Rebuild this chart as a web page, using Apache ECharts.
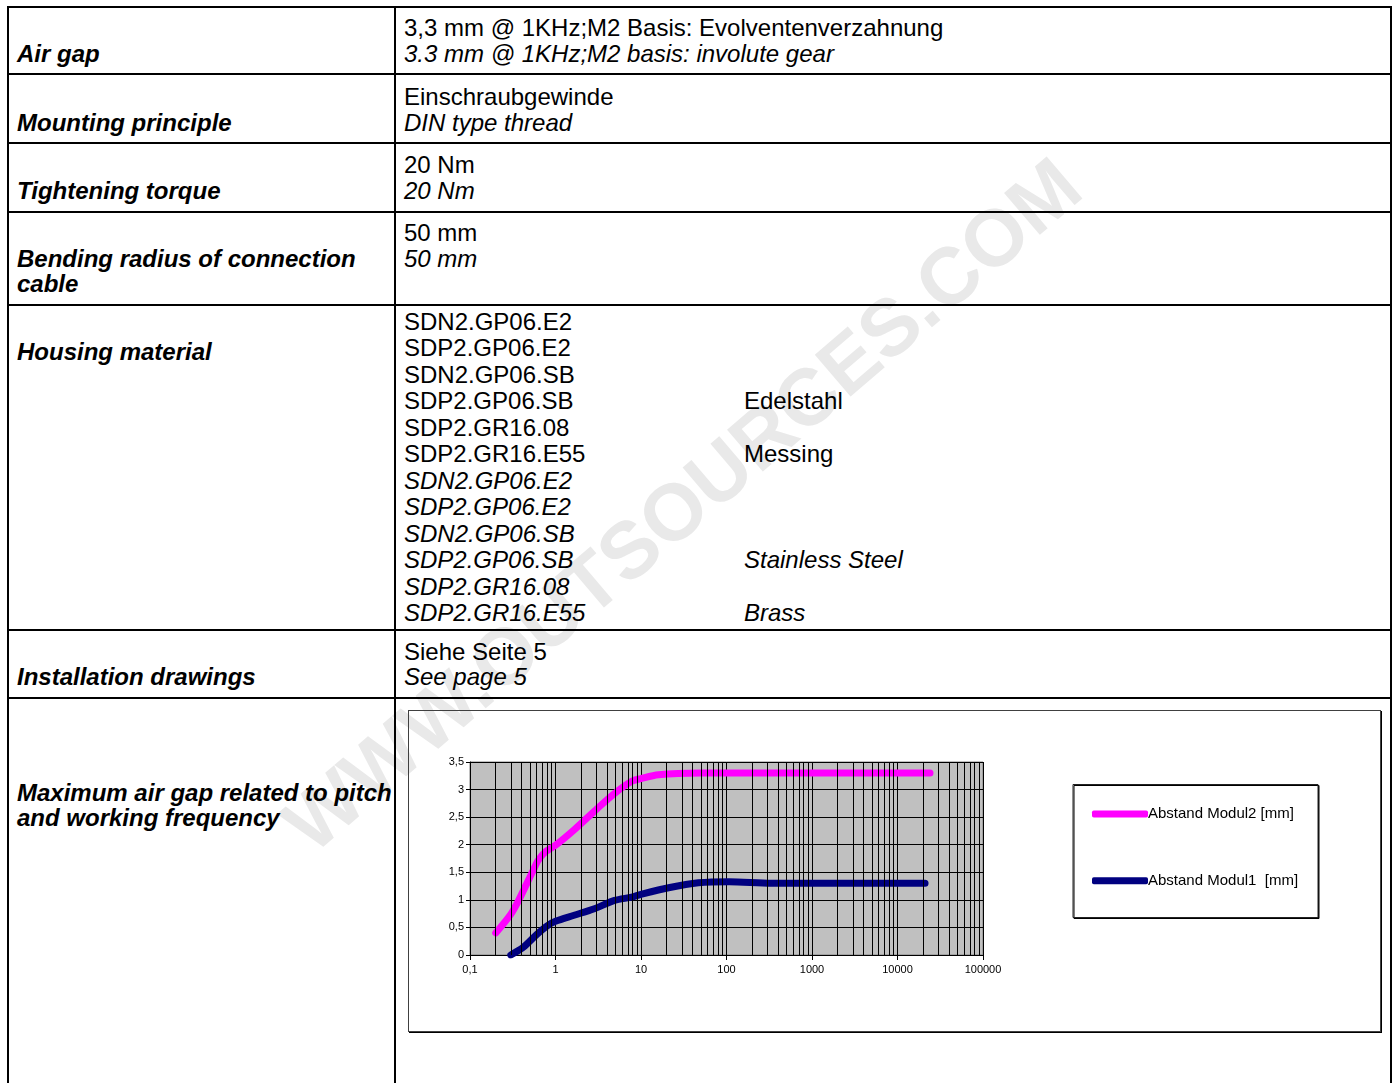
<!DOCTYPE html>
<html>
<head>
<meta charset="utf-8">
<script src="https://cdn.jsdelivr.net/npm/echarts@6/dist/echarts.min.js"></script>
<style>
html,body{margin:0;padding:0;background:#fff;}
body{width:1393px;height:1083px;position:relative;overflow:hidden;font-family:"Liberation Sans",Arial,sans-serif;}
.hl{position:absolute;height:2px;background:#000;left:7px;width:1385px;z-index:2;}
.vl{position:absolute;width:2px;background:#000;top:7px;height:1076px;z-index:2;}
.t{position:absolute;font-size:24px;line-height:26px;white-space:pre;color:#000;z-index:3;}
.i{font-style:italic;}
.b{font-weight:bold;font-style:italic;}
#wm{position:absolute;left:682px;top:505px;transform:translate(-50%,-50%) rotate(-40.5deg);font-weight:bold;font-size:80px;color:#e9e9e9;white-space:nowrap;z-index:0;line-height:1;}
#chart{position:absolute;left:408px;top:710px;width:971px;height:320px;border:1px solid #404040;box-shadow:1px 1px 0 #000;z-index:1;}
</style>
</head>
<body>
<div id="wm">WWW.OUTSOURCES.COM</div>

<div class="hl" style="top:6px"></div>
<div class="hl" style="top:73px"></div>
<div class="hl" style="top:142px"></div>
<div class="hl" style="top:211px"></div>
<div class="hl" style="top:304px"></div>
<div class="hl" style="top:629px"></div>
<div class="hl" style="top:697px"></div>
<div class="vl" style="left:7px"></div>
<div class="vl" style="left:394px"></div>
<div class="vl" style="left:1390px"></div>

<div id="texts"></div>
<div id="chart"></div>

<script>
// ---- table text ----
const leftLabels = [
  ['Air gap', 54],
  ['Mounting principle', 123],
  ['Tightening torque', 191],
  ['Bending radius of connection', 259],
  ['cable', 284],
  ['Housing material', 352],
  ['Installation drawings', 677],
  ['Maximum air gap related to pitch', 793],
  ['and working frequency', 818]
];
const rightLines = [
  ['3,3 mm @ 1KHz;M2 Basis: Evolventenverzahnung', 28, false],
  ['3.3 mm @ 1KHz;M2 basis: involute gear', 54, true],
  ['Einschraubgewinde', 97, false],
  ['DIN type thread', 123, true],
  ['20 Nm', 165, false],
  ['20 Nm', 191, true],
  ['50 mm', 233, false],
  ['50 mm', 259, true],
  ['Siehe Seite 5', 652, false],
  ['See page 5', 677, true]
];
const housingTypes = ['SDN2.GP06.E2','SDP2.GP06.E2','SDN2.GP06.SB','SDP2.GP06.SB','SDP2.GR16.08','SDP2.GR16.E55'];
const housingMaterialsDE = ['', '', '', 'Edelstahl', '', 'Messing'];
const housingMaterialsEN = ['', '', '', 'Stainless Steel', '', 'Brass'];

const texts = document.getElementById('texts');
function addText(str, x, cy, cls) {
  const d = document.createElement('div');
  d.className = 't ' + cls;
  d.style.left = x + 'px';
  d.style.top = (cy - 13) + 'px';
  d.textContent = str;
  texts.appendChild(d);
}
leftLabels.forEach(l => addText(l[0], 17, l[1], 'b'));
rightLines.forEach(l => addText(l[0], 404, l[1], l[2] ? 'i' : ''));
for (let k = 0; k < 12; k++) {
  const j = k % 6, it = k >= 6;
  const cy = 322 + 26.45 * k;
  addText(housingTypes[j], 404, cy, it ? 'i' : '');
  const m = it ? housingMaterialsEN[j] : housingMaterialsDE[j];
  if (m) addText(m, 744, cy, it ? 'i' : '');
}

// ---- chart data ----
const xTickValues = [0.1, 1, 10, 100, 1000, 10000, 100000];
const xTickLabels = ['0,1', '1', '10', '100', '1000', '10000', '100000'];
const yTickValues = [0, 0.5, 1, 1.5, 2, 2.5, 3, 3.5];
const yTickLabels = ['0', '0,5', '1', '1,5', '2', '2,5', '3', '3,5'];

const seriesNames = ['Abstand Modul2 [mm]', 'Abstand Modul1  [mm]'];
const modul2X = [0.2, 0.3, 0.37, 0.46, 0.55, 0.63, 0.76, 1, 1.65, 3.1, 4.9, 7.8, 10, 16, 50, 24000];
const modul2Y = [0.4, 0.74, 0.99, 1.29, 1.54, 1.72, 1.87, 1.99, 2.27, 2.66, 2.93, 3.15, 3.2, 3.27, 3.3, 3.3];
const modul1X = [0.3, 0.42, 0.61, 0.8, 1, 1.65, 2.85, 4.9, 7.8, 10, 21, 47, 107, 335, 21000];
const modul1Y = [0, 0.14, 0.38, 0.53, 0.61, 0.72, 0.84, 0.99, 1.05, 1.1, 1.22, 1.31, 1.33, 1.3, 1.3];

const minorMultipliers = [2, 3, 4, 5, 6, 7, 8, 9];
const minorDecades = [0.1, 1, 10, 100, 1000, 10000];

const pair = (xs, ys) => xs.map((x, i) => [x, ys[i]]);
const minorLines = [];
minorDecades.forEach(d => minorMultipliers.forEach(m => minorLines.push({ xAxis: +(d * m).toPrecision(6) })));

function lookup(vals, labels, v, log) {
  for (let i = 0; i < vals.length; i++) {
    const a = log ? Math.log10(vals[i]) : vals[i];
    const b = log ? Math.log10(v) : v;
    if (Math.abs(a - b) < 1e-6) return labels[i];
  }
  return '';
}

const FONT = '"Liberation Sans", Arial, sans-serif';
const chart = echarts.init(document.getElementById('chart'), null, { renderer: 'canvas' });
chart.setOption({
  animation: false,
  backgroundColor: 'transparent',
  textStyle: { fontFamily: FONT },
  grid: {
    left: 61, top: 51, width: 513, height: 193,
    show: true, backgroundColor: '#C0C0C0', borderColor: '#808080', borderWidth: 1,
    containLabel: false
  },
  xAxis: {
    type: 'log', logBase: 10, min: 0.1, max: 100000,
    axisLine: { show: true, lineStyle: { color: '#000', width: 1 } },
    axisTick: { show: true, length: 5, lineStyle: { color: '#000' } },
    splitLine: { show: true, lineStyle: { color: '#000', width: 1 } },
    axisLabel: {
      fontSize: 11, color: '#000', margin: 9, fontFamily: FONT,
      formatter: v => lookup(xTickValues, xTickLabels, v, true)
    }
  },
  yAxis: {
    type: 'value', min: 0, max: 3.5, interval: 0.5,
    axisLine: { show: true, lineStyle: { color: '#000', width: 1 } },
    axisTick: { show: true, length: 4, lineStyle: { color: '#000' } },
    splitLine: { show: true, lineStyle: { color: '#000', width: 1 } },
    axisLabel: {
      fontSize: 11, color: '#000', margin: 6, fontFamily: FONT,
      formatter: v => lookup(yTickValues, yTickLabels, v, false)
    }
  },
  legend: {
    orient: 'vertical', left: 683, top: 95,
    padding: 0, itemGap: 50.7, itemWidth: 56, itemHeight: 7,
    icon: 'roundRect',
    data: seriesNames,
    textStyle: { fontSize: 15, lineHeight: 16, color: '#000', fontFamily: FONT, padding: [0, 0, 0, -5] },
    selectedMode: false
  },
  graphic: [{
    type: 'rect', left: 663.5, top: 73,
    shape: { width: 245, height: 133 },
    style: { fill: '#fff', stroke: '#222', lineWidth: 1, shadowColor: '#000', shadowOffsetX: 1, shadowOffsetY: 1 },
    z: -1, silent: true
  }],
  series: [
    {
      type: 'line', name: 'minor', data: [], z: 1, silent: true,
      markLine: {
        silent: true, symbol: 'none', animation: false,
        label: { show: false },
        lineStyle: { color: '#000', width: 1, type: 'solid' },
        emphasis: { disabled: true },
        data: minorLines
      }
    },
    {
      type: 'line', name: seriesNames[0], data: pair(modul2X, modul2Y), z: 3,
      showSymbol: false, smooth: 0.3,
      color: '#FF00FF',
      lineStyle: { color: '#FF00FF', width: 7, cap: 'round', join: 'round' }
    },
    {
      type: 'line', name: seriesNames[1], data: pair(modul1X, modul1Y), z: 3,
      showSymbol: false, smooth: 0.3,
      color: '#000080',
      lineStyle: { color: '#000080', width: 7, cap: 'round', join: 'round' }
    }
  ]
});
</script>
</body>
</html>
